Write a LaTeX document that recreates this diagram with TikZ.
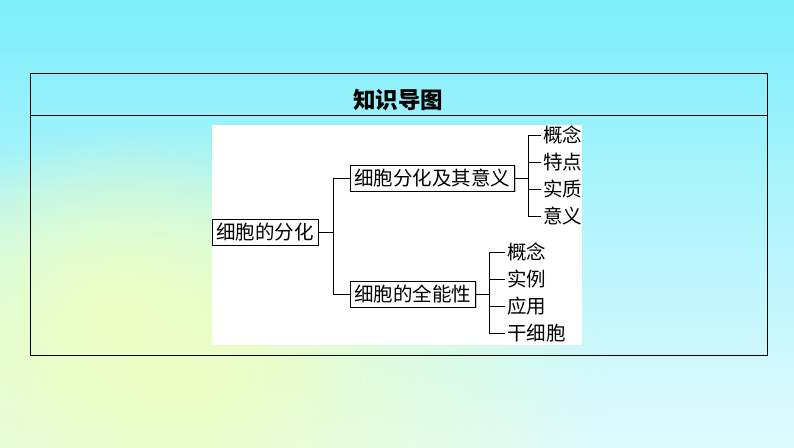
\documentclass[tikz,border=0pt]{standalone}
\usepackage{fontspec}
\newfontfamily\cjk{Noto Sans CJK SC}
\usepackage{tikz}
\usetikzlibrary{positioning,fadings,shadows}

\definecolor{skycyan}{RGB}{124,238,250}
\definecolor{palecyan}{RGB}{224,250,253}
\definecolor{paleyellow}{RGB}{238,255,196}

\tikzfading[name=glow,inner color=transparent!0,outer color=transparent!100]

\tikzset{
  mapbox/.style={draw=black,line width=0.8pt,fill=white,inner xsep=4pt,inner ysep=0pt,
    minimum height=26pt,font=\cjk\fontsize{19.5}{19.5}\selectfont,
    drop shadow={shadow xshift=1.2pt,shadow yshift=-1.2pt,opacity=0.45}},
  leaf/.style={inner xsep=2pt,inner ysep=0pt,font=\cjk\fontsize{19.5}{19.5}\selectfont},
  branch/.style={line width=0.9pt,black}
}

\begin{document}
\begin{tikzpicture}[x=1pt,y=-1pt]

\useasboundingbox (0,0) rectangle (794,447);

% background
\shade[top color=skycyan,bottom color=palecyan,middle color=skycyan!45!palecyan] (0,0) rectangle (794,447);
\fill[paleyellow,path fading=glow] (180,380) ellipse (430 and 260);
\fill[paleyellow,path fading=glow] (120,320) ellipse (240 and 180);

% frame
\draw[line width=0.8pt] (30,73) rectangle (767,355);
\draw[line width=0.8pt] (30,115) -- (767,115);
\node[font=\cjk\bfseries\fontsize{22.5}{22.5}\selectfont] (title) at (398,100) {知识导图};

\fill[white] (212,125) rectangle (582,345);

% tree
\node[mapbox,anchor=west] (root) at (212,232) {细胞的分化};
\node[mapbox,anchor=west] (diff) at (350,178) {细胞分化及其意义};
\node[mapbox,anchor=west] (total) at (350,294) {细胞的全能性};

\node[leaf,anchor=west] (d1) at (541,135) {概念};
\node[leaf,anchor=west] (d2) at (541,162) {特点};
\node[leaf,anchor=west] (d3) at (541,189) {实质};
\node[leaf,anchor=west] (d4) at (541,216) {意义};

\node[leaf,anchor=west] (t1) at (505,252) {概念};
\node[leaf,anchor=west] (t2) at (505,279) {实例};
\node[leaf,anchor=west] (t3) at (505,306) {应用};
\node[leaf,anchor=west] (t4) at (505,333) {干细胞};

\draw[branch] (root.east) -- ++(15,0) |- (diff.west);
\draw[branch] (root.east) -- ++(15,0) |- (total.west);

\foreach \n in {d1,d2,d3,d4}
  \draw[branch] (diff.east) -- ++(14,0) |- (\n.west);
\foreach \n in {t1,t2,t3,t4}
  \draw[branch] (total.east) -- ++(14,0) |- (\n.west);

\end{tikzpicture}
\end{document}
